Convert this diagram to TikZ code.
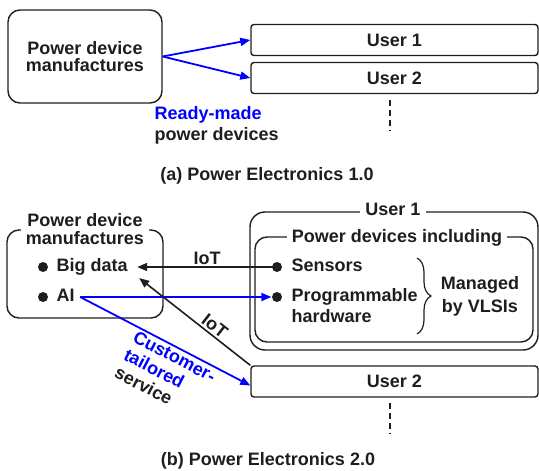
\documentclass[tikz,border=0pt]{standalone}
\usepackage{fontspec}
\setmainfont{Liberation Sans}
\usetikzlibrary{arrows.meta,positioning,decorations.pathreplacing}
\definecolor{ink}{RGB}{30,30,30}
\definecolor{pushblue}{RGB}{0,0,255}
\tikzset{
  every picture/.style={color=ink, line width=1.2pt, font=\fontsize{18}{18}\selectfont\bfseries},
  group/.style={draw=ink, rounded corners=12pt, line width=1.4pt, inner sep=0pt},
  user/.style={draw=ink, rounded corners=3pt, line width=1.4pt, minimum width=287pt, minimum height=31pt, inner sep=0pt},
  title/.style={fill=white, inner xsep=5pt, inner ysep=1pt, align=center},
  item/.style={inner sep=2pt, text height=13pt, text depth=4pt},
  dot/.style={circle, fill=ink, inner sep=0pt, minimum size=10pt},
  flow/.style={-{Triangle[length=10pt,width=8pt]}, line width=1.6pt},
  push/.style={flow, color=pushblue, line width=1.8pt},
  more/.style={line width=2.2pt, dash pattern=on 6pt off 4pt},
  lbl/.style={inner sep=2pt},
}

\begin{document}
\begin{tikzpicture}[x=1pt, y=-1pt]
  \useasboundingbox (0,0) rectangle (539,471);
  % (a) Power Electronics 1.0
  \node[group, minimum width=154pt, minimum height=93pt, align=center, font=\fontsize{18}{17}\selectfont\bfseries] (mfa) at (85,56.5) {Power device\\manufactures};
  \node[user] (ua1) at (394.5,40) {User 1};
  \node[user] (ua2) at (394.5,78) {User 2};
  \draw[push] (mfa.east) -- (ua1.west);
  \draw[push] (mfa.east) -- (ua2.west);
  \node[lbl, anchor=west, align=left, font=\fontsize{18}{21}\selectfont\bfseries] (ready) at (152,125) {\textcolor{pushblue}{Ready-made}\\power devices};
  \coordinate (da1) at (390,100); \coordinate (da2) at (390,131);
  \draw[more] (da1) -- (da2);
  \node[lbl] (capa) at (267,176) {(a) Power Electronics 1.0};

  % (b) Power Electronics 2.0
  \node[group, minimum width=156pt, minimum height=88pt] (mfb) at (85,274) {};
  \node[title] (mfbt) at (85,229) {Power device\\manufactures};
  \node[dot] (dbig) at (43,267) {};
  \node[item, anchor=west] (big) at (54,267) {Big data};
  \node[dot] (dai) at (43,297) {};
  \node[item, anchor=west] (ai) at (54,297) {AI};

  \node[group, rounded corners=15pt, minimum width=288pt, minimum height=138pt] (ub1) at (394,281) {};
  \node[title] (ub1t) at (393,209) {User 1};
  \node[group, minimum width=278pt, minimum height=105pt] (pd) at (394,289.5) {};
  \node[title] (pdt) at (397,238) {Power devices including};
  \node[dot] (dsens) at (277,267) {};
  \node[item, anchor=west] (sens) at (289,267) {Sensors};
  \node[dot] (dprog) at (277,297) {};
  \node[item, anchor=west] (prog) at (289,297) {Programmable};
  \node[item, anchor=west] (hw) at (289,318) {hardware};
  \draw[line width=1.2pt, decorate, decoration={brace, amplitude=14pt}] (417,258) -- (417,334);
  \node[lbl, align=center, font=\fontsize{18}{23}\selectfont\bfseries] (vlsi) at (480,296.5) {Managed\\by VLSIs};

  \node[user] (ub2) at (394.5,381.5) {User 2};

  \draw[flow] (dsens.center) -- ([xshift=7pt]big.east) node[lbl, midway, above] {IoT};
  \draw[push] ([xshift=3pt]ai.east) -- (dprog.west);
  \draw[push] ([xshift=3pt]ai.east) -- ([yshift=-4pt]ub2.west)
    node[lbl, pos=0.58, sloped, below, align=left, text=pushblue, font=\fontsize{18}{20}\selectfont\bfseries] {Customer-\\tailored\\\textcolor{ink}{service}};
  \draw[flow] (ub2.north west) -- ([xshift=9pt]big.south east) node[lbl, pos=0.37, sloped, above] {IoT};

  \coordinate (db1) at (390,403); \coordinate (db2) at (390,434);
  \draw[more] (db1) -- (db2);
  \node[lbl] (capb) at (268,461) {(b) Power Electronics 2.0};
\end{tikzpicture}
\end{document}
